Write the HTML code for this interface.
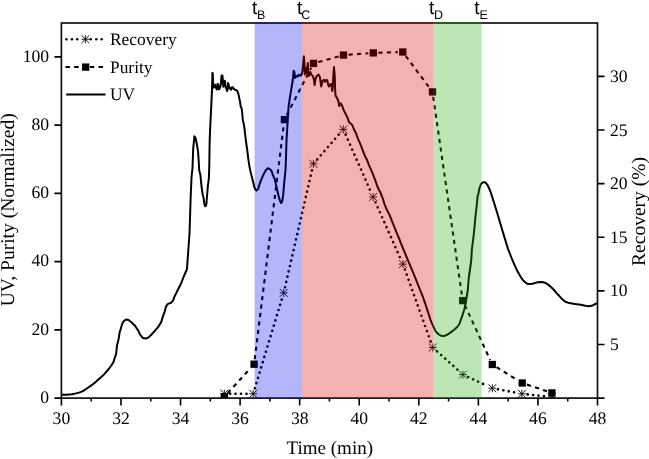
<!DOCTYPE html>
<html><head><meta charset="utf-8"><title>Chart</title>
<style>html,body{margin:0;padding:0;background:#fff;}svg{display:block;}text{filter:grayscale(1);text-rendering:geometricPrecision;}</style>
</head><body>
<svg width="649" height="459" viewBox="0 0 649 459"><defs><clipPath id="pc"><rect x="61.4" y="22.8" width="536.1" height="375.3"/></clipPath></defs><rect width="649" height="459" fill="#fff"/><g clip-path="url(#pc)"><polyline points="61.6,394.7 66.5,394.7 72.0,394.3 75.0,393.6 79.2,392.6 83.4,390.8 87.6,388.0 91.7,385.2 95.9,381.7 100.1,377.9 102.9,375.5 104.3,374.1 108.7,369.0 111.3,365.5 113.5,362.0 114.8,357.6 116.1,354.2 117.0,345.5 117.9,342.0 118.7,338.5 119.2,335.0 119.7,332.0 120.7,329.1 122.2,323.7 124.0,320.8 126.4,319.5 128.5,320.0 131.4,322.2 135.2,326.0 138.2,330.6 140.5,335.2 142.8,337.9 145.9,338.6 148.9,337.1 152.0,334.0 154.6,331.1 158.2,326.9 161.2,322.1 163.0,316.1 164.8,311.3 166.0,306.6 167.2,304.8 168.4,303.6 170.7,303.0 173.1,300.6 174.3,297.0 176.1,293.4 177.9,289.8 180.3,285.0 181.7,281.8 183.6,276.9 187.0,269.0 187.5,261.2 188.5,247.5 189.5,233.7 190.1,215.0 190.6,199.0 191.5,177.5 192.5,168.0 193.2,148.7 194.4,136.3 195.6,138.0 196.8,144.0 198.0,151.1 198.7,160.7 199.2,170.3 200.4,175.0 201.6,187.0 202.8,195.4 203.3,196.4 204.4,204.0 205.1,206.3 205.8,206.0 206.4,204.0 207.0,196.4 207.9,185.7 208.9,178.1 209.3,165.0 209.5,150.0 209.7,140.0 210.1,130.0 210.6,119.3 211.4,102.9 212.0,90.0 212.3,80.0 212.4,72.8 212.8,73.3 213.0,82.4 213.3,87.7 214.2,86.8 215.0,84.6 215.9,87.7 216.8,89.4 217.6,83.7 218.5,85.0 218.9,89.4 219.8,88.1 220.7,85.5 221.6,75.5 222.4,75.5 222.9,80.7 223.3,86.8 224.2,80.7 225.0,81.1 225.5,86.8 226.4,88.5 227.2,91.1 228.1,82.9 228.7,85.0 229.4,88.5 230.3,88.1 231.1,89.8 232.0,87.2 232.9,87.2 233.8,89.0 235.1,89.8 236.4,90.3 237.4,91.1 238.6,94.6 239.4,98.9 240.3,103.3 240.6,106.1 241.7,108.7 242.2,113.0 242.8,120.0 243.7,123.5 244.5,128.7 245.3,136.0 246.5,145.0 247.5,152.1 248.3,159.1 249.4,166.1 250.6,172.0 251.8,176.7 253.0,181.4 254.1,186.1 255.3,189.6 256.5,190.6 258.2,188.9 259.3,185.1 260.9,180.7 263.1,175.3 265.8,170.3 268.0,168.2 270.2,169.3 271.8,171.4 272.9,175.3 274.5,178.5 276.1,185.1 277.8,192.7 279.4,199.2 281.0,203.0 282.1,201.9 283.2,194.9 284.3,181.8 285.4,170.9 285.9,160.0 286.6,138.4 287.8,119.2 288.5,107.3 289.8,98.1 291.1,90.3 292.4,82.5 293.1,77.2 293.7,70.7 294.4,72.0 295.0,77.9 296.3,75.9 297.6,76.6 299.0,74.6 300.3,75.9 301.6,74.6 302.5,70.7 303.9,56.2 304.4,62.8 304.8,74.6 306.1,68.1 306.8,73.3 307.8,63.1 308.4,72.0 309.0,75.9 310.3,72.0 311.4,74.6 312.7,75.9 314.0,79.8 314.6,85.1 315.6,78.5 316.9,75.9 318.6,74.6 319.9,77.2 321.2,86.4 322.5,81.1 323.8,79.8 325.1,81.8 326.4,79.8 327.4,80.6 328.1,84.4 328.9,86.5 330.1,84.4 331.4,84.0 331.8,87.7 332.3,91.0 332.8,86.0 333.4,75.0 334.0,67.0 334.7,75.0 335.1,89.4 335.5,95.2 336.8,97.7 338.2,100.5 339.2,106.1 340.6,103.3 342.0,105.4 343.5,109.6 344.9,112.5 346.3,115.3 347.7,118.2 349.1,122.4 350.7,123.5 352.3,125.1 353.3,127.7 354.4,130.3 355.9,132.9 357.0,136.1 358.6,140.3 360.1,143.4 361.7,147.6 363.3,151.8 365.1,156.5 367.1,160.1 368.5,163.8 369.9,167.4 371.7,171.1 373.1,174.7 374.5,178.4 375.6,181.1 377.4,186.5 379.0,190.0 380.5,192.6 381.6,195.7 382.9,198.9 384.3,203.5 386.1,208.1 387.9,211.7 389.8,215.4 391.1,219.0 393.0,223.6 394.8,228.2 396.6,232.7 398.5,237.3 399.6,239.6 400.7,242.8 404.5,252.0 408.3,261.1 412.1,270.2 415.9,279.4 418.9,287.0 422.4,295.7 425.7,304.9 427.5,310.5 430.0,318.3 431.6,322.6 433.3,326.4 435.4,330.8 438.2,334.0 440.9,335.7 444.1,336.0 447.4,334.6 450.7,332.4 453.9,330.0 457.2,327.0 459.4,324.0 461.3,318.5 462.8,314.3 464.6,308.3 465.8,302.3 467.8,290.0 468.4,282.0 469.0,276.0 470.5,266.0 471.0,262.0 471.4,258.0 471.8,250.0 472.8,242.0 473.6,236.0 474.8,223.9 475.5,216.0 476.2,210.0 477.0,203.0 477.5,197.0 478.5,193.0 479.5,188.0 481.0,184.0 483.0,182.2 484.5,182.2 486.0,183.0 487.5,185.0 489.0,188.0 490.7,192.2 494.1,202.9 497.6,214.3 501.0,225.7 504.4,237.1 507.9,248.6 510.2,254.5 512.4,260.0 514.7,265.3 517.0,270.3 519.3,274.5 521.6,278.3 523.3,280.4 525.2,282.2 527.2,283.8 529.8,284.1 532.4,283.8 535.0,283.0 537.6,282.3 540.9,281.9 543.5,282.3 546.1,283.2 548.8,285.1 551.4,287.4 554.0,290.0 556.6,293.2 559.2,295.8 562.3,299.3 565.4,301.8 569.3,303.1 574.7,303.9 580.8,304.8 585.4,305.8 588.5,306.2 591.6,305.8 594.7,304.3 597.5,303.3" fill="none" stroke="#000" stroke-width="2" stroke-linejoin="round" stroke-linecap="round"/><path d="M230.10 393.72L247.40 393.78M254.88 388.25L282.02 298.45M285.00 287.25L312.15 169.45M317.25 159.42L339.50 133.78M345.64 134.71L370.76 191.69M375.45 202.30L400.55 258.80M404.86 269.56L430.84 342.04M437.11 351.38L458.59 370.72M468.16 377.04L487.04 385.76M498.00 389.28L516.20 392.72M527.67 394.42L546.13 396.38" fill="none" stroke="#000" stroke-width="2.7" stroke-dasharray="0 5.45" stroke-linecap="round"/><path d="M220.35 393.70H228.25M224.30 389.75V397.65M220.35 389.75L228.25 397.65M220.35 397.65L228.25 389.75M249.25 393.80H257.15M253.20 389.85V397.75M249.25 389.85L257.15 397.75M249.25 397.75L257.15 389.85M279.75 292.90H287.65M283.70 288.95V296.85M279.75 288.95L287.65 296.85M279.75 296.85L287.65 288.95M309.50 163.80H317.40M313.45 159.85V167.75M309.50 159.85L317.40 167.75M309.50 167.75L317.40 159.85M339.35 129.40H347.25M343.30 125.45V133.35M339.35 125.45L347.25 133.35M339.35 133.35L347.25 125.45M369.15 197.00H377.05M373.10 193.05V200.95M369.15 193.05L377.05 200.95M369.15 200.95L377.05 193.05M398.95 264.10H406.85M402.90 260.15V268.05M398.95 260.15L406.85 268.05M398.95 268.05L406.85 260.15M428.85 347.50H436.75M432.80 343.55V351.45M428.85 343.55L436.75 351.45M428.85 351.45L436.75 343.55M458.95 374.60H466.85M462.90 370.65V378.55M458.95 370.65L466.85 378.55M458.95 378.55L466.85 370.65M488.35 388.20H496.25M492.30 384.25V392.15M488.35 384.25L496.25 392.15M488.35 392.15L496.25 384.25M517.95 393.80H525.85M521.90 389.85V397.75M517.95 389.85L525.85 397.75M517.95 397.75L525.85 389.85M547.95 397.00H555.85M551.90 393.05V400.95M547.95 393.05L555.85 400.95M547.95 400.95L555.85 393.05" fill="none" stroke="#000" stroke-width="0.9"/><path d="M227.67 393.11L250.73 367.89M254.71 359.24L283.79 124.56M286.70 115.16L311.20 67.84M318.32 62.07L338.68 56.43M348.49 54.73L368.31 53.27M378.30 52.75L397.80 52.15M405.79 56.01L429.51 87.89M433.22 96.85L461.98 295.65M464.80 305.14L490.20 359.96M496.55 367.13L517.95 380.37M526.94 384.58L547.16 391.32" fill="none" stroke="#000" stroke-width="2.1" stroke-dasharray="4.2 4.3"/><g fill="#000"><rect x="220.65" y="393.15" width="7.3" height="7.3"/><rect x="250.45" y="360.55" width="7.3" height="7.3"/><rect x="280.75" y="115.95" width="7.3" height="7.3"/><rect x="309.85" y="59.75" width="7.3" height="7.3"/><rect x="339.85" y="51.45" width="7.3" height="7.3"/><rect x="369.65" y="49.25" width="7.3" height="7.3"/><rect x="399.15" y="48.35" width="7.3" height="7.3"/><rect x="428.85" y="88.25" width="7.3" height="7.3"/><rect x="459.05" y="296.95" width="7.3" height="7.3"/><rect x="488.65" y="360.85" width="7.3" height="7.3"/><rect x="518.55" y="379.35" width="7.3" height="7.3"/><rect x="548.25" y="389.25" width="7.3" height="7.3"/></g></g><rect x="61.4" y="23.0" width="536.1" height="375.1" fill="none" stroke="#111" stroke-width="1.7"/><path d="M61.40 398.1v7.3M91.18 398.1v3.4M120.97 398.1v7.3M150.75 398.1v3.4M180.53 398.1v7.3M210.32 398.1v3.4M240.10 398.1v7.3M269.88 398.1v3.4M299.67 398.1v7.3M329.45 398.1v3.4M359.23 398.1v7.3M389.02 398.1v3.4M418.80 398.1v7.3M448.58 398.1v3.4M478.37 398.1v7.3M508.15 398.1v3.4M537.93 398.1v7.3M567.72 398.1v3.4M597.50 398.1v7.3M61.4 398.10h-7M61.4 329.86h-7M61.4 261.63h-7M61.4 193.39h-7M61.4 125.15h-7M61.4 56.92h-7M597.5 398.10h7M597.5 344.49h7M597.5 290.87h7M597.5 237.26h7M597.5 183.64h7M597.5 130.03h7M597.5 76.41h7" stroke="#000" stroke-width="1.6" fill="none"/><rect x="254.6" y="22.0" width="47.3" height="376.1" fill="#0000f4" fill-opacity="0.29"/><rect x="301.9" y="22.0" width="131.1" height="376.1" fill="#d50000" fill-opacity="0.30"/><rect x="433.0" y="22.0" width="48.6" height="376.1" fill="#28aa05" fill-opacity="0.30"/><g font-family="Liberation Serif, serif" font-size="17.6" fill="#000"><text x="61.4" y="423.8" text-anchor="middle">30</text><text x="121.0" y="423.8" text-anchor="middle">32</text><text x="180.5" y="423.8" text-anchor="middle">34</text><text x="240.1" y="423.8" text-anchor="middle">36</text><text x="299.7" y="423.8" text-anchor="middle">38</text><text x="359.2" y="423.8" text-anchor="middle">40</text><text x="418.8" y="423.8" text-anchor="middle">42</text><text x="478.4" y="423.8" text-anchor="middle">44</text><text x="537.9" y="423.8" text-anchor="middle">46</text><text x="597.5" y="423.8" text-anchor="middle">48</text><text x="49.1" y="402.8" text-anchor="end">0</text><text x="49.1" y="334.6" text-anchor="end">20</text><text x="49.1" y="266.3" text-anchor="end">40</text><text x="49.1" y="198.1" text-anchor="end">60</text><text x="49.1" y="129.9" text-anchor="end">80</text><text x="49.1" y="61.6" text-anchor="end">100</text><text x="610.0" y="350.0">5</text><text x="610.0" y="296.4">10</text><text x="610.0" y="242.8">15</text><text x="610.0" y="189.1">20</text><text x="610.0" y="135.5">25</text><text x="610.0" y="81.9">30</text></g><text font-family="Liberation Serif, serif" font-size="19" x="329.8" y="454.0" text-anchor="middle">Time (min)</text><text font-family="Liberation Serif, serif" font-size="19.5" transform="translate(14.1 209.8) rotate(-90)" text-anchor="middle">UV, Purity (Normalized)</text><text font-family="Liberation Serif, serif" font-size="19.5" transform="translate(645.2 211.5) rotate(-90)" text-anchor="middle">Recovery (%)</text><g fill="#000"><circle cx="66.4" cy="39.2" r="1.25"/><circle cx="71.9" cy="39.2" r="1.25"/><circle cx="77.2" cy="39.2" r="1.25"/><circle cx="90.7" cy="39.2" r="1.25"/><circle cx="96.3" cy="39.2" r="1.25"/><circle cx="101.7" cy="39.2" r="1.25"/></g><path d="M81.45 39.20H89.35M85.40 35.25V43.15M81.45 35.25L89.35 43.15M81.45 43.15L89.35 35.25" stroke="#000" stroke-width="0.9" fill="none"/><path d="M65.5 67H69.9M74.1 67H78.7M90 67H94.3M98.5 67H103" stroke="#000" stroke-width="2.1" fill="none"/><g fill="#000"><rect x="82.05" y="63.45" width="7.3" height="7.3"/></g><path d="M66.2 94.6H105.5" stroke="#000" stroke-width="2" fill="none"/><g font-family="Liberation Serif, serif" font-size="17.4"><text x="110" y="44.8">Recovery</text><text x="110" y="72.7">Purity</text><text x="110" y="100.3">UV</text></g><text x="252.1" y="13.7" font-family="Liberation Sans, sans-serif" font-size="19">t</text><text x="257.0" y="19.1" font-family="Liberation Sans, sans-serif" font-size="12.5">B</text><text x="296.9" y="13.7" font-family="Liberation Sans, sans-serif" font-size="19">t</text><text x="301.3" y="19.1" font-family="Liberation Sans, sans-serif" font-size="12.5">C</text><text x="429.1" y="13.7" font-family="Liberation Sans, sans-serif" font-size="19">t</text><text x="434.0" y="19.1" font-family="Liberation Sans, sans-serif" font-size="12.5">D</text><text x="474.2" y="13.7" font-family="Liberation Sans, sans-serif" font-size="19">t</text><text x="479.4" y="19.1" font-family="Liberation Sans, sans-serif" font-size="12.5">E</text></svg>
</body></html>
